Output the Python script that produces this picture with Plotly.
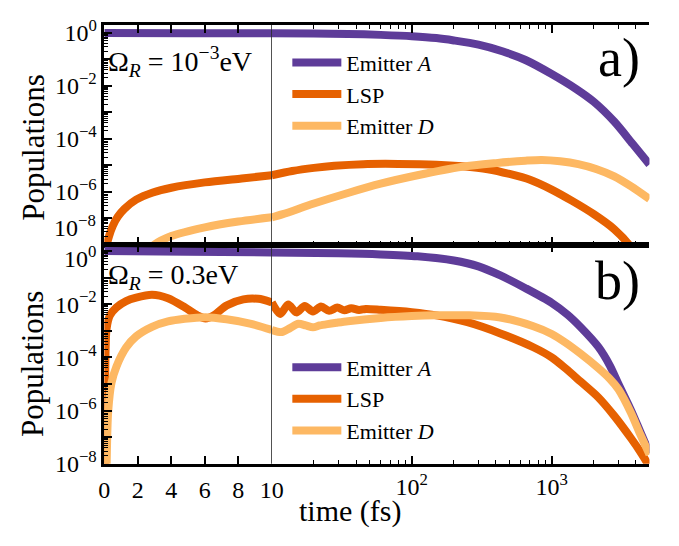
import math
import plotly.graph_objects as go

# ---------------- data ----------------
# panel a)  Omega_R = 1e-3 eV
t_A_a = [0, 5, 10, 20, 35, 60, 100, 150, 200, 300, 450, 650, 1000, 1500, 2000, 2800, 3800, 5000]
P_A_a = [1.0, 0.989, 0.977, 0.955, 0.923, 0.851, 0.759, 0.646, 0.525, 0.363, 0.200, 0.0955,
         0.0282, 7.59e-3, 2.51e-3, 4.47e-4, 6.31e-5, 1.07e-5]

t_L_a = [0.05, 0.12, 0.3, 0.5, 0.8, 1.2, 1.9, 2.9, 4.0, 6.0, 8.2, 10, 14, 20, 28, 45, 80, 150,
         230, 350, 500, 700, 1000, 1400, 2000, 2800, 3700, 4500]
P_L_a = [1e-10, 7.94e-9, 2.24e-8, 5.01e-8, 1.12e-7, 2.24e-7, 5.01e-7, 9.33e-7, 1.41e-6, 2.24e-6,
         3.16e-6, 4.17e-6, 6.03e-6, 7.94e-6, 9.55e-6, 1.10e-5, 1.12e-5, 1.05e-5, 9.12e-6, 7.08e-6,
         4.68e-6, 2.82e-6, 1.20e-6, 4.47e-7, 1.41e-7, 3.80e-8, 7.94e-9, 1.58e-9]

t_D_a = [2.0, 3.0, 4.0, 6.0, 8.0, 10, 12, 20, 35, 60, 110, 230, 400, 650, 850, 1150, 1550, 2100,
         2800, 3700, 5000]
P_D_a = [2.51e-9, 1.0e-8, 2.09e-8, 4.47e-8, 7.41e-8, 1.07e-7, 1.41e-7, 3.55e-7, 8.91e-7, 2.0e-6,
         4.17e-6, 8.71e-6, 1.20e-5, 1.48e-5, 1.58e-5, 1.41e-5, 1.10e-5, 7.08e-6, 3.80e-6, 1.58e-6,
         5.25e-7]

# panel b)  Omega_R = 0.3 eV
t_A_b = [0, 5, 10, 30, 60, 110, 200, 300, 430, 650, 1000, 1300, 1600, 2150, 2600, 3000, 3700,
         4300, 5000]
P_A_b = [1.0, 0.933, 0.871, 0.813, 0.741, 0.631, 0.437, 0.263, 0.120, 0.0398, 0.0112, 3.98e-3,
         1.41e-3, 2.51e-4, 5.01e-5, 1.0e-5, 1.0e-6, 1.58e-7, 2.51e-8]

t_L_b = [0, 0.04, 0.08, 0.14, 0.33, 0.72, 1.3, 1.9, 2.85, 3.8, 4.8, 5.55, 6.05, 6.55, 7.3, 8.3,
         9.2, 10, 11.5, 13.1, 15.0, 17.2, 19.7, 22.5, 25.7, 29.4, 33, 37, 42, 47, 60, 100, 150,
         250, 430, 740, 1000, 1260, 1600, 2150, 2800, 3700, 4300, 4850, 5000]
P_L_b = [1e-12, 1e-6, 2.51e-4, 1.26e-3, 3.72e-3, 7.41e-3, 0.0129, 0.0174, 0.0224, 0.0166,
         7.59e-3, 3.80e-3, 2.88e-3, 3.80e-3, 8.91e-3, 0.0151, 0.0158, 0.0117,
         4.27e-3, 9.77e-3, 4.90e-3, 8.51e-3, 5.25e-3, 8.13e-3, 5.62e-3, 7.41e-3, 5.89e-3,
         7.08e-3, 6.03e-3, 6.61e-3, 6.17e-3, 5.01e-3, 3.80e-3, 2.09e-3, 7.94e-4, 2.40e-4,
         1.0e-4, 3.80e-5, 1.26e-5, 3.16e-6, 6.31e-7, 8.91e-8, 2.82e-8, 1.0e-8, 7.08e-9]

t_D_b = [0.1, 0.14, 0.23, 0.43, 0.72, 1.3, 1.9, 2.85, 3.8, 4.8, 6.05, 7.3, 8.7, 10,
         11.8, 13.5, 15.5, 17.5, 19.7, 22, 25, 29, 35, 60, 100, 150, 250, 430, 740, 1000, 1260,
         1600, 2150, 2600, 3000, 3700, 4300, 5000]
P_D_b = [1e-10, 1e-8, 9.12e-7, 1.12e-5, 4.47e-5, 2.34e-4, 6.17e-4, 1.41e-3, 2.24e-3, 2.82e-3,
         3.24e-3, 2.69e-3, 1.86e-3, 1.07e-3,
         8.91e-4, 1.26e-3, 1.82e-3, 1.58e-3, 1.35e-3, 1.58e-3, 1.78e-3, 2.0e-3, 2.29e-3, 3.02e-3,
         3.55e-3, 3.80e-3, 3.80e-3, 3.16e-3, 1.48e-3, 7.59e-4, 3.55e-4, 1.41e-4, 3.98e-5,
         1.58e-5, 6.31e-6, 7.94e-7, 1.26e-7, 2.24e-8]

series_names = ["Emitter <i>A</i>", "LSP", "Emitter <i>D</i>"]
series_colors = ["#5e3c99", "#e66101", "#fdb863"]
panels = [
    [(t_A_a, P_A_a), (t_L_a, P_L_a), (t_D_a, P_D_a)],
    [(t_A_b, P_A_b), (t_L_b, P_L_b), (t_D_b, P_D_b)],
]
panel_texts = ["Ω<sub><i>R</i></sub> = 10<sup>−3</sup>eV", "Ω<sub><i>R</i></sub> = 0.3eV"]
panel_letters = ["a)", "b)"]

x_lin_ticks = [0, 2, 4, 6, 8, 10]
x_log_ticks = [100, 1000]
x_log_ticktext = ["10<sup>2</sup>", "10<sup>3</sup>"]
x_log_minor = [20, 30, 40, 50, 60, 70, 80, 90, 200, 300, 400, 500, 600, 700, 800, 900,
               2000, 3000, 4000, 5000]
y_ticks = [1, 1e-1, 1e-2, 1e-3, 1e-4, 1e-5, 1e-6, 1e-7, 1e-8]
y_ticktext = ["10<sup>0</sup>", " ", "10<sup>−2</sup>", " ", "10<sup>−4</sup>", " ",
              "10<sup>−6</sup>", " ", "10<sup>−8</sup>"]
y_minor = [m * 10.0 ** e for e in range(-9, 1) for m in range(2, 10)]

T_BREAK = 10
T_MAX = 5000

# ---------------- layout helpers ----------------
W, H = 679, 546
FONT = "Liberation Serif"


def px(x):
    return x / W


def py(y):
    return 1 - y / H


XL, XM, XR = px(101), px(273), px(661)
YA = [py(246), py(17.5)]
YB = [py(474), py(246)]

fig = go.Figure()

axes = [("x", "x2", "y", "legend"), ("x3", "x4", "y2", "legend2")]
for k, series in enumerate(panels):
    xlin, xlog, yax, leg = axes[k]
    for (t, p), name, col in zip(series, series_names, series_colors):
        tl = [a for a in t if a <= T_BREAK]
        pl = [b for a, b in zip(t, p) if a <= T_BREAK]
        tg = [a for a in t if a >= T_BREAK]
        pg = [b for a, b in zip(t, p) if a >= T_BREAK]
        fig.add_trace(go.Scatter(x=tl, y=pl, xaxis=xlin, yaxis=yax, mode="lines",
                                 line=dict(color=col, width=8, shape="spline", smoothing=0.8),
                                 name=name, legend=leg, showlegend=True))
        fig.add_trace(go.Scatter(x=tg, y=pg, xaxis=xlog, yaxis=yax, mode="lines",
                                 line=dict(color=col, width=8, shape="spline", smoothing=0.8),
                                 name=name, legend=leg, showlegend=False))

TICK_FONT = dict(family=FONT, size=24, color="black")
common = dict(showgrid=False, zeroline=False, showline=True, linecolor="black", linewidth=2.5,
              ticks="inside", ticklen=8, tickwidth=1.5, tickcolor="black", tickfont=TICK_FONT)
minor_x = dict(ticks="inside", ticklen=4, tickwidth=1, tickcolor="black", tickvals=x_log_minor,
               showgrid=False)
minor_y = dict(ticks="inside", ticklen=4, tickwidth=1, tickcolor="black", tickvals=y_minor,
               showgrid=False)

# labels at the panel boundary are set as separate texts (see annotations below)
ytext_a = y_ticktext[:-1] + [" "]
ytext_b = [" "] + y_ticktext[1:]

layout_axes = {}
for k in range(2):
    xlin, xlog, yax, _ = axes[k]
    yname = "yaxis" if k == 0 else "yaxis2"
    lin_name = "xaxis" if k == 0 else "xaxis3"
    log_name = "xaxis2" if k == 0 else "xaxis4"
    layout_axes[lin_name] = dict(common, domain=[XL, XM], range=[0, T_BREAK], anchor=yax,
                                 tickmode="array", tickvals=x_lin_ticks, ticklabelstandoff=3,
                                 showticklabels=(k == 1), mirror="ticks")
    layout_axes[log_name] = dict(common, type="log", domain=[XM, XR],
                                 range=[math.log10(T_BREAK), math.log10(T_MAX)], anchor=yax,
                                 tickmode="array", tickvals=x_log_ticks, ticktext=x_log_ticktext,
                                 showticklabels=(k == 1), mirror="ticks", minor=minor_x)
    dom = YA if k == 0 else YB
    top = 0.31 if k == 0 else 0.24
    layout_axes[yname] = dict(common, type="log", domain=dom, range=[-8, top], anchor=xlin,
                              tickmode="array", tickvals=y_ticks,
                              ticktext=(ytext_a if k == 0 else ytext_b), minor=minor_y)
    rname = "yaxis3" if k == 0 else "yaxis4"
    layout_axes[rname] = dict(common, type="log", overlaying=yax, anchor=xlog, side="right",
                              range=[-8, top], tickmode="array", tickvals=y_ticks,
                              showticklabels=False, minor=minor_y)

annotations = []
for k in range(2):
    annotations.append(dict(text=panel_texts[k], xref="paper", yref="paper",
                            x=px(103), y=py(56 if k == 0 else 279), xanchor="left",
                            yanchor="middle", showarrow=False,
                            font=dict(family=FONT, size=28, color="black")))
    annotations.append(dict(text=panel_letters[k], xref="paper", yref="paper",
                            x=px(653), y=py(52 if k == 0 else 284), xanchor="right",
                            yanchor="middle", showarrow=False,
                            font=dict(family=FONT, size=54, color="black")))
    annotations.append(dict(text="Populations", xref="paper", yref="paper",
                            x=px(28), y=py(145 if k == 0 else 370), textangle=-90,
                            xanchor="center", yanchor="middle", showarrow=False,
                            font=dict(family=FONT, size=31, color="black")))
annotations.append(dict(text="time (fs)", xref="paper", yref="paper", x=px(353), y=py(523),
                        xanchor="center", yanchor="middle", showarrow=False,
                        font=dict(family=FONT, size=30, color="black")))
# boundary tick labels: panel a's 10^-8 lifted, panel b's 10^0 lowered, as in the reference
annotations.append(dict(text=y_ticktext[-1], xref="paper", yref="paper", x=px(95), y=py(227),
                        xanchor="right", yanchor="middle", showarrow=False, font=TICK_FONT))
annotations.append(dict(text=y_ticktext[0], xref="paper", yref="paper", x=px(95), y=py(259),
                        xanchor="right", yanchor="middle", showarrow=False, font=TICK_FONT))

legend_common = dict(bgcolor="rgba(0,0,0,0)", font=dict(family=FONT, size=22, color="black"),
                     xanchor="left", yanchor="top", itemwidth=49, tracegroupgap=0)

fig.update_layout(
    width=W, height=H, autosize=False,
    margin=dict(l=0, r=0, t=0, b=0),
    font=dict(family=FONT, color="black"),
    paper_bgcolor="white", plot_bgcolor="white",
    showlegend=True,
    legend=dict(legend_common, x=px(289), y=py(35)),
    legend2=dict(legend_common, x=px(289), y=py(352)),
    annotations=annotations,
    shapes=[dict(type="line", xref="x", x0=T_BREAK, x1=T_BREAK, yref="paper",
                 y0=YB[0], y1=YA[1], line=dict(color="black", width=1.3))],
    **layout_axes,
)

fig.write_html("out.html")
